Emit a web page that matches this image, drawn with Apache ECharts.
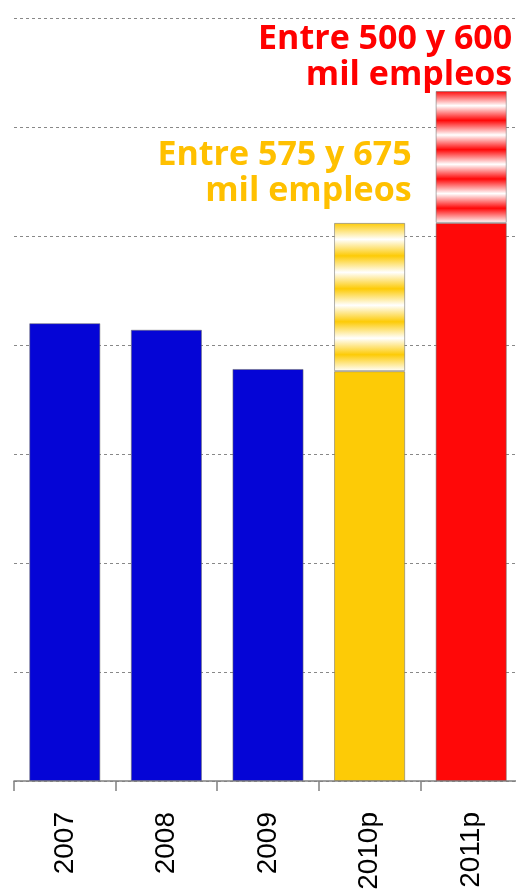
<!DOCTYPE html>
<html>
<head>
<meta charset="utf-8">
<script src="https://cdn.jsdelivr.net/npm/echarts@6/dist/echarts.min.js"></script>
<style>
html, body { margin: 0; padding: 0; background: #fff; }
#main { width: 516px; height: 893px; }
</style>
</head>
<body>
<div id="main"></div>
<script>
// empleo: valores observados y rango previsto (escala relativa del grafico)
var years = ['2007', '2008', '2009', '2010p', '2011p'];
var baseValues = [420, 414, 378, 376, 512];
var rangeValues = ['-', '-', '-', 136, 121];
var rangeLabels = ['', '', '', 'Entre 575 y 675\nmil empleos', 'Entre 500 y 600\nmil empleos'];

var BLUE = '#0505d6', YELLOW = '#fdcb06', RED = '#ff0808';
var baseColors = [BLUE, BLUE, BLUE, YELLOW, RED];
var labelColors = ['', '', '', '#ffc000', '#ff0000'];
var labelOffsets = [null, null, null, [42, -14], [41, 2]];

// bandas horizontales degradadas (color / blanco)
function stripes(c) {
	var stops = [];
	for (var k = 0; k <= 9; k++) {
		stops.push({offset: k / 9, color: k % 2 ? '#ffffff' : c});
	}
	return {type: 'linear', x: 0, y: 0, x2: 0, y2: 1, colorStops: stops};
}

var border = {borderColor: 'rgba(110,110,110,0.55)', borderWidth: 1};

var baseData = baseValues.map(function (v, i) {
	return {value: v, itemStyle: Object.assign({color: baseColors[i]}, border)};
});
var rangeData = rangeValues.map(function (v, i) {
	if (v === '-') return '-';
	return {
		value: v,
		itemStyle: Object.assign({color: stripes(baseColors[i])}, border),
		label: {
			show: true,
			position: 'top',
			distance: 0,
			align: 'right',
			offset: labelOffsets[i],
			formatter: rangeLabels[i],
			color: labelColors[i],
			fontFamily: 'Open Sans',
			fontWeight: 'bold',
			fontSize: 34,
			lineHeight: 36
		}
	};
});

var option = {
	animation: false,
	backgroundColor: '#fff',
	grid: {left: 14, right: -6, top: 18, bottom: 112, outerBoundsMode: 'none', containLabel: false},
	xAxis: {
		type: 'category',
		data: years,
		axisLine: {lineStyle: {color: '#808080', width: 1.5}},
		axisTick: {show: true, length: 10, lineStyle: {color: '#808080', width: 1.5}},
		axisLabel: {
			rotate: 90,
			margin: 31,
			color: '#000',
			fontFamily: 'Liberation Sans',
			fontSize: 28
		}
	},
	yAxis: {
		type: 'value',
		min: 0,
		max: 700,
		interval: 100,
		axisLine: {show: false},
		axisTick: {show: false},
		axisLabel: {show: false},
		splitLine: {lineStyle: {color: '#888', type: [3, 3], width: 1}}
	},
	series: [{
		name: 'base',
		type: 'bar',
		stack: 'empleo',
		barCategoryGap: '30%',
		data: baseData
	}, {
		name: 'rango',
		type: 'bar',
		stack: 'empleo',
		barCategoryGap: '30%',
		data: rangeData
	}]
};

var myChart = echarts.init(document.getElementById('main'));
myChart.setOption(option);
</script>
</body>
</html>
